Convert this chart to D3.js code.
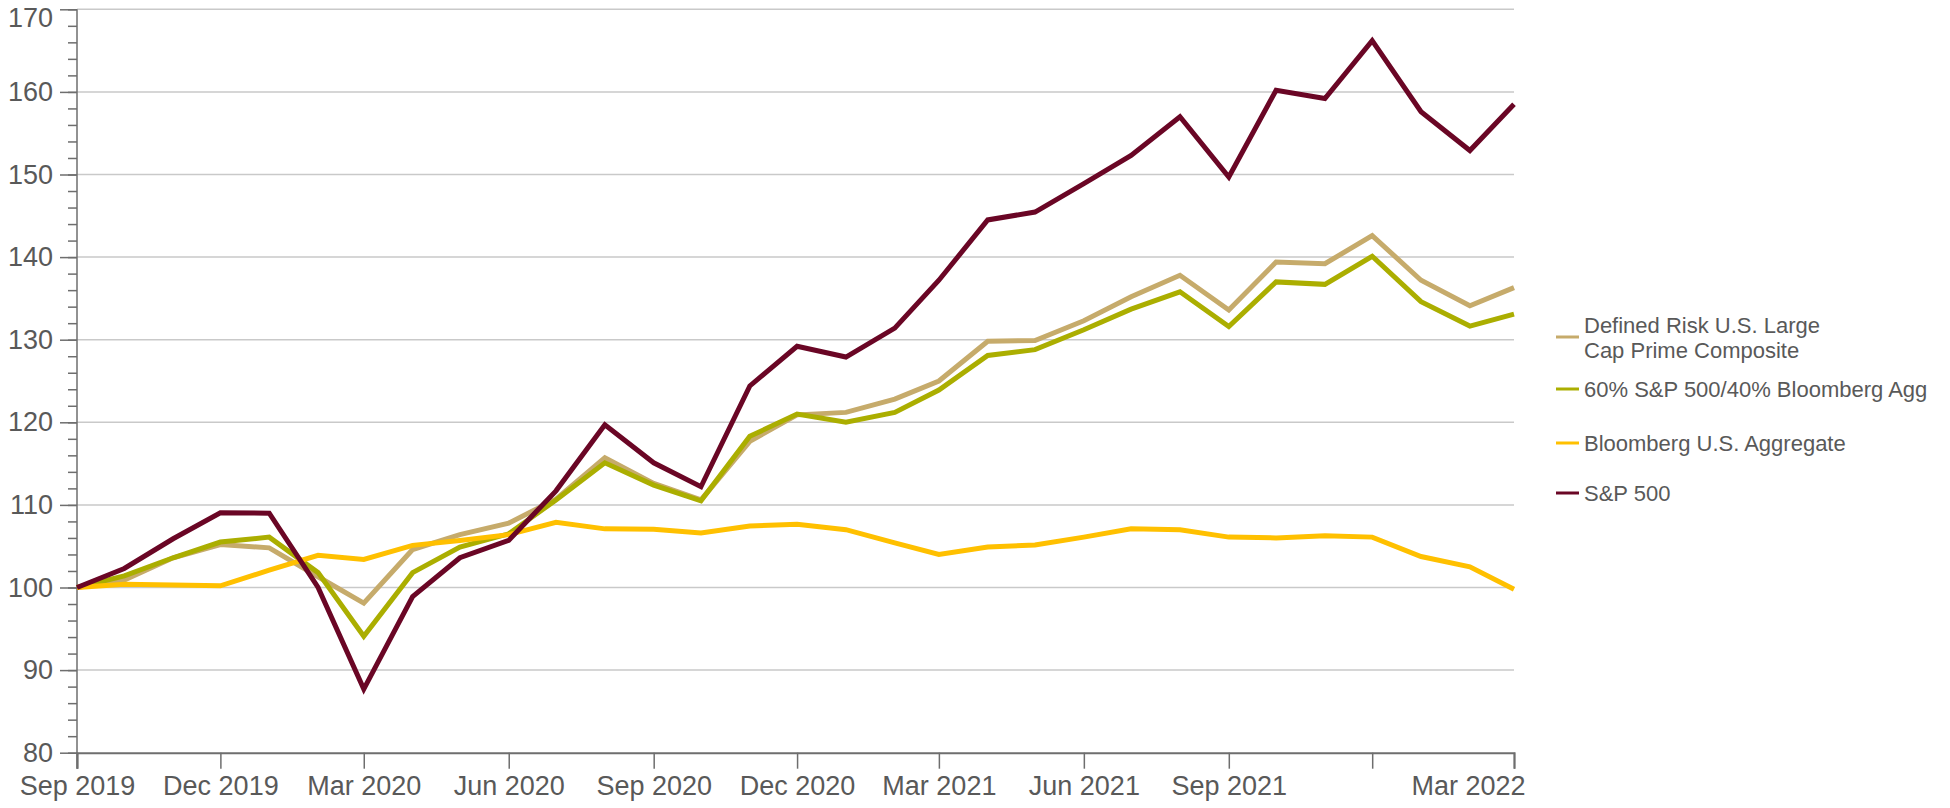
<!DOCTYPE html>
<html>
<head>
<meta charset="utf-8">
<script src="https://cdn.jsdelivr.net/npm/d3@7"></script>
<style>
  html, body { margin: 0; padding: 0; background: #ffffff; }
  svg { display: block; font-family: "Liberation Sans", Arial, sans-serif; }
</style>
</head>
<body>
<svg id="chart" width="1950" height="808"></svg>
<script>
// Month-end observations, Sep 2019 – Mar 2022
const months = [
  "2019-09","2019-10","2019-11","2019-12","2020-01","2020-02","2020-03","2020-04",
  "2020-05","2020-06","2020-07","2020-08","2020-09","2020-10","2020-11","2020-12",
  "2021-01","2021-02","2021-03","2021-04","2021-05","2021-06","2021-07","2021-08",
  "2021-09","2021-10","2021-11","2021-12","2022-01","2022-02","2022-03"
];

// Growth of 100
const definedRisk = [100, 100.9, 103.6, 105.2, 104.8, 101.3, 98.1, 104.6, 106.4, 107.8,
  110.7, 115.7, 112.6, 110.6, 117.7, 120.9, 121.2, 122.8, 125.0,
  129.8, 129.9, 132.3, 135.2, 137.8, 133.6, 139.4, 139.2, 142.6, 137.2, 134.1, 136.3];
const balanced6040 = [100, 101.4, 103.6, 105.5, 106.1, 101.8, 94.1, 101.8, 104.9, 106.5,
  110.6, 115.1, 112.4, 110.5, 118.3, 121.0, 120.0, 121.2, 123.9,
  128.1, 128.8, 131.2, 133.7, 135.8, 131.6, 137.0, 136.7, 140.1, 134.6, 131.65, 133.1];
const aggregate = [100, 100.4, 100.3, 100.2, 102.1, 103.9, 103.4, 105.1, 105.7, 106.4,
  107.9, 107.1, 107.05, 106.6, 107.45, 107.65, 107.0, 105.4, 104.0,
  104.9, 105.15, 106.1, 107.1, 107.0, 106.1, 106.0, 106.25, 106.1, 103.75, 102.5, 99.8];
const sp500 = [100, 102.3, 105.9, 109.05, 109.0, 100.0, 87.7, 98.9, 103.6, 105.7,
  111.7, 119.7, 115.1, 112.2, 124.4, 129.2, 127.9, 131.4, 137.2,
  144.5, 145.45, 148.9, 152.3, 157.0, 149.7, 160.2, 159.2, 166.2, 157.6, 152.9, 158.5];

const seriesNames = [
  ["Defined Risk U.S. Large", "Cap Prime Composite"],
  ["60% S&P 500/40% Bloomberg Agg"],
  ["Bloomberg U.S. Aggregate"],
  ["S&P 500"]
];
const seriesColors = ["#c6ab6b", "#abae00", "#ffc000", "#6a0625"];
const seriesValues = [definedRisk, balanced6040, aggregate, sp500];

const xTickMonths = ["2019-09","2019-12","2020-03","2020-06","2020-09","2020-12",
  "2021-03","2021-06","2021-09","2021-12","2022-03"];
const xTickLabels = ["Sep 2019","Dec 2019","Mar 2020","Jun 2020","Sep 2020","Dec 2020",
  "Mar 2021","Jun 2021","Sep 2021","","Mar 2022"];
const yMajorTicks = [80, 90, 100, 110, 120, 130, 140, 150, 160, 170];

const parse = d3.timeParse("%Y-%m");
const dates = months.map(parse);

const svg = d3.select("#chart");
const plot = { left: 77, right: 1514, top: 9.3, bottom: 752.7 };

const x = d3.scaleTime().domain([dates[0], dates[dates.length - 1]]).range([plot.left, plot.right]);
const y = d3.scaleLinear().domain([80, 170]).range([plot.bottom, plot.top]);

const textColor = "#595959";
const axisColor = "#6e6e6e";
const fontFamily = "'Liberation Sans', Arial, sans-serif";

// Horizontal gridlines
svg.append("g")
  .selectAll("line")
  .data(yMajorTicks.filter(v => v > 80))
  .join("line")
  .attr("x1", plot.left).attr("x2", plot.right)
  .attr("y1", d => y(d)).attr("y2", d => y(d))
  .attr("stroke", "#c9c9c9")
  .attr("stroke-width", 1.5);

// Y axis: minor ticks every 2, major ticks with labels every 10
svg.append("g").attr("transform", `translate(${plot.left},0)`)
  .call(d3.axisLeft(y).tickValues(d3.range(80, 170.1, 2)).tickSize(9).tickFormat(""))
  .call(g => g.select(".domain").remove())
  .call(g => g.selectAll("line").attr("stroke", axisColor).attr("stroke-width", 1.5));
svg.append("g").attr("transform", `translate(${plot.left},0)`)
  .call(d3.axisLeft(y).tickValues(yMajorTicks).tickSize(17).tickPadding(7).tickFormat(d3.format("d")))
  .call(g => g.select(".domain").remove())
  .call(g => g.selectAll("line").attr("stroke", axisColor).attr("stroke-width", 1.5))
  .call(g => g.selectAll("text")
    .attr("fill", textColor)
    .attr("font-size", 27)
    .attr("font-family", fontFamily))
  // the top label sits a little lower so it stays inside the frame
  .call(g => g.selectAll(".tick").filter(d => d === 170).select("text").attr("y", 9));
svg.append("line")
  .attr("x1", plot.left).attr("x2", plot.left)
  .attr("y1", y(170)).attr("y2", plot.bottom + 16)
  .attr("stroke", axisColor).attr("stroke-width", 1.5);

// X axis
const xAxisG = svg.append("g").attr("transform", `translate(0,${plot.bottom})`);
xAxisG.call(d3.axisBottom(x)
    .tickValues(xTickMonths.map(parse))
    .tickSize(16)
    .tickPadding(7)
    .tickFormat((d, i) => xTickLabels[i]))
  .call(g => g.select(".domain").attr("stroke", axisColor).attr("stroke-width", 2))
  .call(g => g.selectAll("line").attr("stroke", axisColor).attr("stroke-width", 1.5))
  .call(g => g.selectAll("text")
    .attr("fill", textColor)
    .attr("font-size", 27)
    .attr("font-family", fontFamily));
// keep the final label inside the plot's right edge
xAxisG.selectAll(".tick").filter((d, i) => i === xTickMonths.length - 1)
  .select("text").attr("text-anchor", "end").attr("dx", 11);

// Series lines
const line = d3.line()
  .x((d, i) => x(dates[i]))
  .y(d => y(d));

svg.append("g")
  .selectAll("path")
  .data(seriesValues)
  .join("path")
  .attr("d", d => line(d))
  .attr("fill", "none")
  .attr("stroke", (d, i) => seriesColors[i])
  .attr("stroke-width", 5)
  .attr("stroke-linejoin", "miter");

// Legend
const legendX = 1556;
const legendRows = [
  { lines: seriesNames[0], y0: 325, swatchY: 337 },
  { lines: seriesNames[1], y0: 389, swatchY: 389 },
  { lines: seriesNames[2], y0: 443, swatchY: 443 },
  { lines: seriesNames[3], y0: 493, swatchY: 493 }
];
const legend = svg.append("g");
legendRows.forEach((row, i) => {
  legend.append("line")
    .attr("x1", legendX).attr("x2", legendX + 23)
    .attr("y1", row.swatchY).attr("y2", row.swatchY)
    .attr("stroke", seriesColors[i])
    .attr("stroke-width", 3);
  row.lines.forEach((t, j) => {
    legend.append("text")
      .attr("x", legendX + 28)
      .attr("y", row.y0 + j * 25)
      .attr("dy", "0.35em")
      .attr("fill", textColor)
      .attr("font-size", 22)
      .attr("font-family", fontFamily)
      .text(t);
  });
});
</script>
</body>
</html>
